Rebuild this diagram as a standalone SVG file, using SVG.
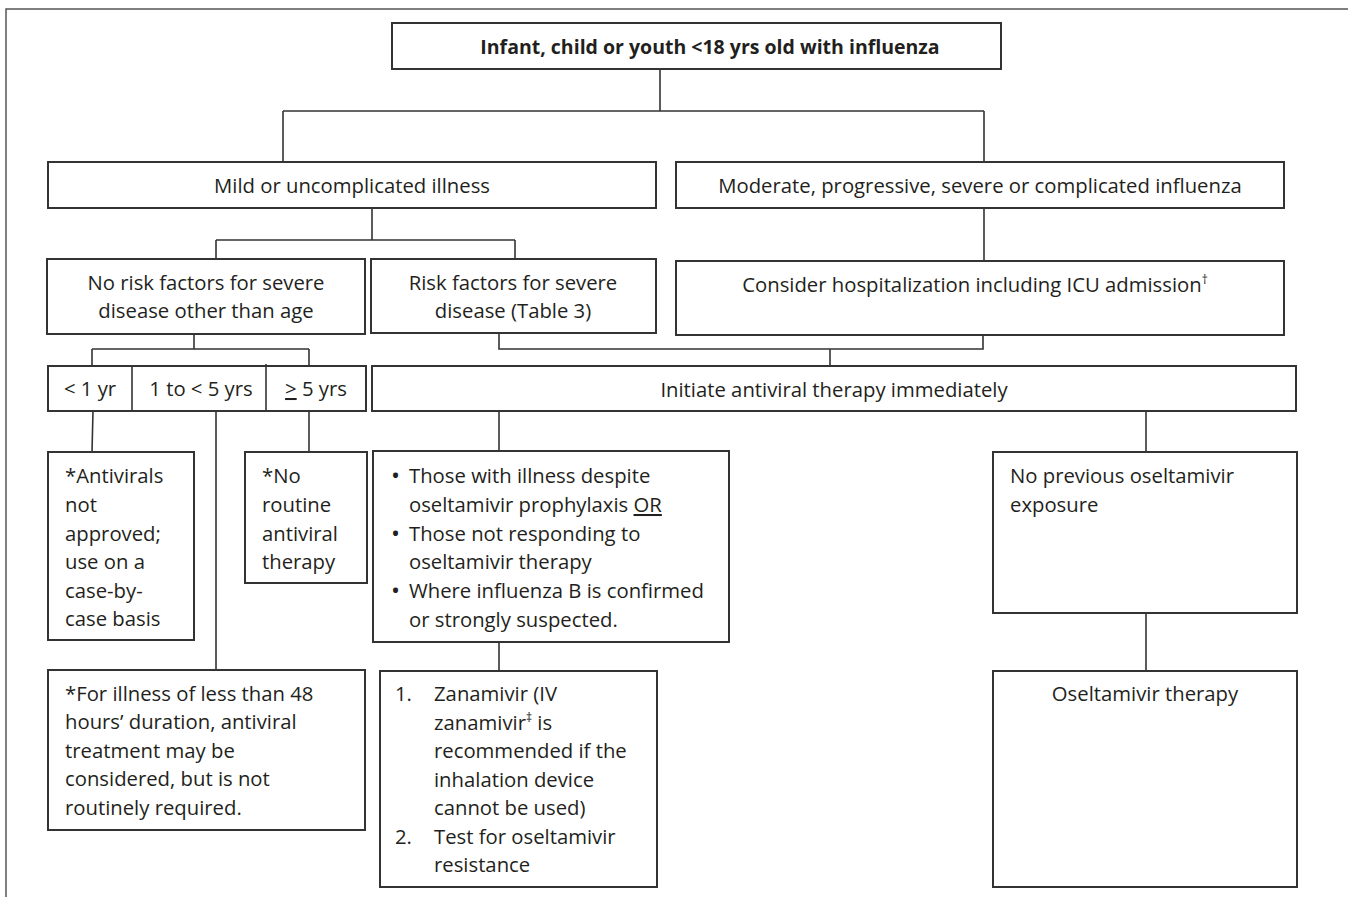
<svg xmlns="http://www.w3.org/2000/svg" width="1348" height="897" viewBox="0 0 1348 897">
<style>
.box{fill:#fff;stroke:#333;stroke-width:2}
.ln{fill:none;stroke:#333;stroke-width:1.6}
.frame{fill:none;stroke:#555;stroke-width:1.5}
text{font-family:"Open Sans","Liberation Sans",sans-serif;font-size:20.3px;fill:#231f20}
.c{text-anchor:middle}
.b{font-weight:bold;font-size:19.5px}
.sup{font-size:12px}
.bul{font-size:24px}
</style>
<rect width="1348" height="897" fill="#fff"/>
<path class="frame" d="M6,897 V9 H1348"/>
<g id="connectors">
<path class="ln" d="M660,69 V111 M283,111 H984 M283,111 V162 M984,111 V162"/>
<path class="ln" d="M372,208 V240 M216,240 H515 M216,240 V259 M515,240 V259"/>
<path class="ln" d="M984,208 V261"/>
<path class="ln" d="M194,334 V349 M92,349 H309 M92,349 V366 M309,349 V366"/>
<path class="ln" d="M499,333 V349 H983 V335 M830,349 V366"/>
<path class="ln" d="M93,411 L92,452 M216,411 V670 M309,411 V452"/>
<path class="ln" d="M499,411 V451 M499,642 V671"/>
<path class="ln" d="M1146,411 V452 M1146,613 V671"/>
</g>
<g id="n-root"><rect class="box" x="392" y="23" width="609" height="46"/><text class="c b" x="710" y="54">Infant, child or youth &lt;18 yrs old with influenza</text></g>
<g id="n-mild"><rect class="box" x="48" y="162" width="608" height="46"/><text class="c" x="352" y="193">Mild or uncomplicated illness</text></g>
<g id="n-moderate"><rect class="box" x="676" y="162" width="608" height="46"/><text class="c" x="980" y="193">Moderate, progressive, severe or complicated influenza</text></g>
<g id="n-norisk"><rect class="box" x="47" y="259" width="318" height="75"/><text class="c" x="206" y="290">No risk factors for severe</text><text class="c" x="206" y="318">disease other than age</text></g>
<g id="n-risk"><rect class="box" x="371" y="259" width="285" height="74"/><text class="c" x="513" y="290">Risk factors for severe</text><text class="c" x="513" y="318">disease (Table 3)</text></g>
<g id="n-consider"><rect class="box" x="676" y="261" width="608" height="74"/><text class="c" x="975" y="292">Consider hospitalization including ICU admission<tspan class="sup" dy="-8">†</tspan></text></g>
<g id="n-age"><rect class="box" x="48" y="366" width="318" height="45"/><path class="ln" d="M132,366 V411 M266,364 V411"/>
<text class="c" x="90" y="396">&lt; 1 yr</text><text class="c" x="201" y="396">1 to &lt; 5 yrs</text><text class="c" x="316" y="396"><tspan text-decoration="underline">&gt;</tspan> 5 yrs</text></g>
<g id="n-initiate"><rect class="box" x="372" y="366" width="924" height="45"/><text class="c" x="834" y="397">Initiate antiviral therapy immediately</text></g>
<g id="n-lt1"><rect class="box" x="48" y="452" width="146" height="188"/>
<text x="65" y="483">*Antivirals</text><text x="65" y="512">not</text><text x="65" y="541">approved;</text><text x="65" y="569">use on a</text><text x="65" y="598">case-by-</text><text x="65" y="626">case basis</text></g>
<g id="n-ge5"><rect class="box" x="245" y="452" width="122" height="131"/>
<text x="262" y="483">*No</text><text x="262" y="512">routine</text><text x="262" y="541">antiviral</text><text x="262" y="569">therapy</text></g>
<g id="n-1to5"><rect class="box" x="48" y="670" width="317" height="160"/>
<text x="65" y="701">*For illness of less than 48</text><text x="65" y="729">hours’ duration, antiviral</text><text x="65" y="758">treatment may be</text><text x="65" y="786">considered, but is not</text><text x="65" y="815">routinely required.</text></g>
<g id="n-bullets"><rect class="box" x="373" y="451" width="356" height="191"/>
<text class="bul" x="391" y="484">•</text><text x="409" y="483">Those with illness despite</text>
<text x="409" y="512">oseltamivir prophylaxis <tspan text-decoration="underline">OR</tspan></text>
<text class="bul" x="391" y="542">•</text><text x="409" y="541">Those not responding to</text>
<text x="409" y="569">oseltamivir therapy</text>
<text class="bul" x="391" y="599">•</text><text x="409" y="598">Where influenza B is confirmed</text>
<text x="409" y="627">or strongly suspected.</text></g>
<g id="n-zanamivir"><rect class="box" x="380" y="671" width="277" height="216"/>
<text x="395" y="701">1.</text><text x="434" y="701">Zanamivir (IV</text>
<text x="434" y="730">zanamivir<tspan class="sup" dy="-8">‡</tspan><tspan dy="8"> is</tspan></text>
<text x="434" y="758">recommended if the</text>
<text x="434" y="787">inhalation device</text>
<text x="434" y="815">cannot be used)</text>
<text x="395" y="844">2.</text><text x="434" y="844">Test for oseltamivir</text>
<text x="434" y="872">resistance</text></g>
<g id="n-noprev"><rect class="box" x="993" y="452" width="304" height="161"/>
<text x="1010" y="483">No previous oseltamivir</text><text x="1010" y="512">exposure</text></g>
<g id="n-oselt"><rect class="box" x="993" y="671" width="304" height="216"/>
<text class="c" x="1145" y="701">Oseltamivir therapy</text></g>
</svg>
